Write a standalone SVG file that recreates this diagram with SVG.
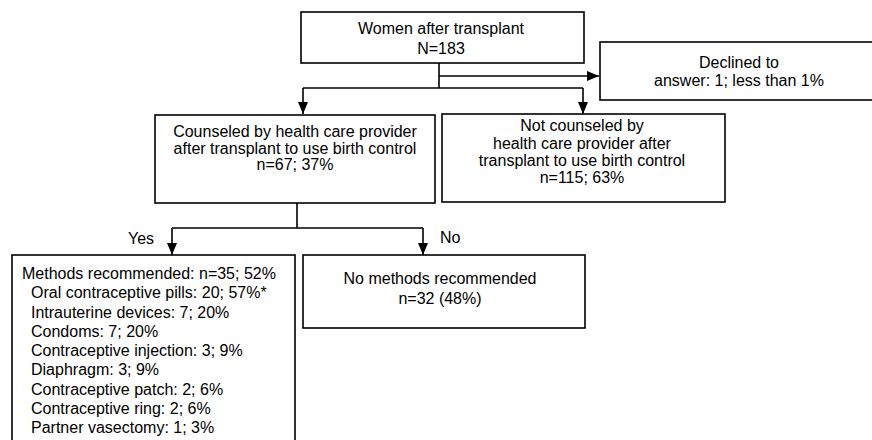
<svg xmlns="http://www.w3.org/2000/svg" width="872" height="440" viewBox="0 0 872 440">
<defs>
<style>
.box{fill:#fff;stroke:#000;stroke-width:1.6}
.t{font-family:"Liberation Sans",Arial,sans-serif;font-size:16px;fill:#000}
.c{text-anchor:middle}
.ln{fill:none;stroke:#000;stroke-width:1.6}
</style>
<marker id="ah" viewBox="0 0 12 10" refX="12" refY="5" markerWidth="12" markerHeight="10" markerUnits="userSpaceOnUse" orient="auto">
<path d="M0,0 L12,5 L0,10 z" fill="#000"/>
</marker>
</defs>
<rect width="872" height="440" fill="#fff"/>
<g id="connectors">
<path class="ln" d="M439,63 V88"/>
<path class="ln" d="M439,76 H599" marker-end="url(#ah)"/>
<path class="ln" d="M303,88 H583"/>
<path class="ln" d="M303,88 V114" marker-end="url(#ah)"/>
<path class="ln" d="M583,88 V114" marker-end="url(#ah)"/>
<path class="ln" d="M297,203 V228"/>
<path class="ln" d="M172,228 H423"/>
<path class="ln" d="M172,228 V255" marker-end="url(#ah)"/>
<path class="ln" d="M423,228 V255" marker-end="url(#ah)"/>
<text class="t" x="128" y="244">Yes</text>
<text class="t" x="440" y="243">No</text>
</g>
<g id="women">
<rect class="box" x="301" y="12" width="283" height="51"/>
<text class="t c" x="441" y="34">Women after transplant</text>
<text class="t c" x="441" y="54">N=183</text>
</g>
<g id="declined">
<rect class="box" x="600" y="42" width="280" height="58"/>
<text class="t c" x="739" y="68">Declined to</text>
<text class="t c" x="739" y="86">answer: 1; less than 1%</text>
</g>
<g id="counseled">
<rect class="box" x="155" y="115" width="280" height="88"/>
<text class="t c" x="295" y="137">Counseled by health care provider</text>
<text class="t c" x="295" y="154">after transplant to use birth control</text>
<text class="t c" x="295" y="170">n=67; 37%</text>
</g>
<g id="notcounseled">
<rect class="box" x="442" y="114" width="283" height="88"/>
<text class="t c" x="582" y="131">Not counseled by</text>
<text class="t c" x="582" y="149">health care provider after</text>
<text class="t c" x="582" y="166">transplant to use birth control</text>
<text class="t c" x="582" y="183">n=115; 63%</text>
</g>
<g id="methods">
<rect class="box" x="12" y="255" width="283" height="200"/>
<text class="t" x="22" y="279">Methods recommended: n=35; 52%</text>
<text class="t" x="31" y="298">Oral contraceptive pills: 20; 57%*</text>
<text class="t" x="31" y="318">Intrauterine devices: 7; 20%</text>
<text class="t" x="31" y="337">Condoms: 7; 20%</text>
<text class="t" x="31" y="356">Contraceptive injection: 3; 9%</text>
<text class="t" x="31" y="375">Diaphragm: 3; 9%</text>
<text class="t" x="31" y="395">Contraceptive patch: 2; 6%</text>
<text class="t" x="31" y="414">Contraceptive ring: 2; 6%</text>
<text class="t" x="31" y="433">Partner vasectomy: 1; 3%</text>
</g>
<g id="nomethods">
<rect class="box" x="303" y="255" width="282" height="73"/>
<text class="t c" x="440" y="284">No methods recommended</text>
<text class="t c" x="440" y="304">n=32 (48%)</text>
</g>
</svg>
